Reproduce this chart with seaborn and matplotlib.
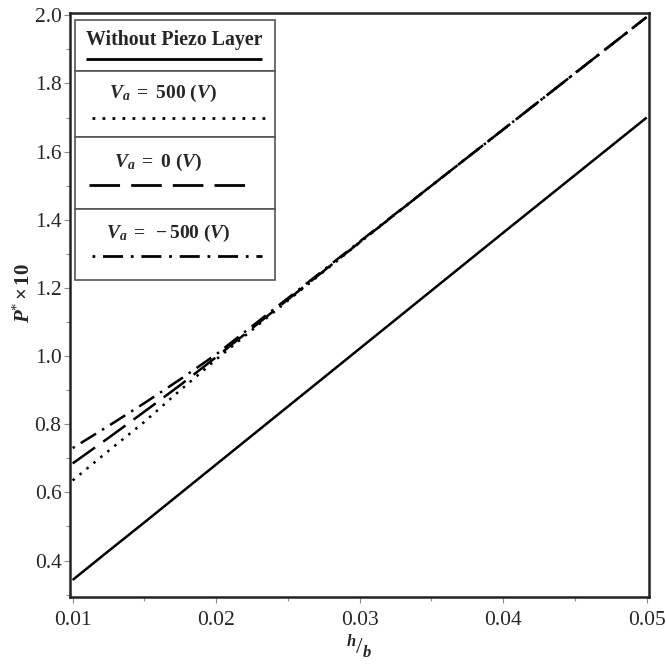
import matplotlib
matplotlib.use("Agg")
import matplotlib.pyplot as plt
import seaborn as sns
import pandas as pd
from matplotlib.lines import Line2D
from matplotlib.patches import Rectangle

# ---- data ----
h_b = [0.01, 0.0125, 0.015, 0.0175, 0.02, 0.025, 0.03, 0.035, 0.04, 0.045, 0.05]
no_piezo = [0.343, 0.428, 0.512, 0.597, 0.682, 0.852, 1.022, 1.192, 1.362, 1.531, 1.700]
va_500 = [0.635, 0.722, 0.807, 0.900, 0.990, 1.163, 1.333, 1.500, 1.665, 1.830, 1.995]
va_0 = [0.685, 0.760, 0.837, 0.915, 0.997, 1.166, 1.334, 1.500, 1.665, 1.830, 1.995]
va_m500 = [0.730, 0.795, 0.862, 0.932, 1.005, 1.170, 1.336, 1.500, 1.665, 1.830, 1.995]
series_names = ["Without Piezo Layer", "Va=500", "Va=0", "Va=-500"]
legend_labels = ["Without Piezo Layer",
                 r"$\mathbfit{V}_{\mathbfit{a}}\mathbf{\ =\ 500\ (}\mathbfit{V}\mathbf{)}$",
                 r"$\mathbfit{V}_{\mathbfit{a}}\mathbf{\ =\ 0\ (}\mathbfit{V}\mathbf{)}$",
                 r"$\mathbfit{V}_{\mathbfit{a}}\mathbf{\ =\ -500\ (}\mathbfit{V}\mathbf{)}$"]
x_ticks = [0.01, 0.02, 0.03, 0.04, 0.05]
y_ticks = [0.4, 0.6, 0.8, 1.0, 1.2, 1.4, 1.6, 1.8, 2.0]

df = pd.concat([
    pd.DataFrame({"h_b": h_b, "P": vals, "series": name})
    for name, vals in zip(series_names, [no_piezo, va_500, va_0, va_m500])
])

sns.set_style("ticks")
plt.rcParams["font.family"] = ["Liberation Serif", "DejaVu Serif"]
plt.rcParams["mathtext.fontset"] = "custom"
plt.rcParams["mathtext.rm"] = "Liberation Serif"
plt.rcParams["mathtext.it"] = "Liberation Serif:italic"
plt.rcParams["mathtext.bf"] = "Liberation Serif:bold"
plt.rcParams["mathtext.bfit"] = "Liberation Serif:bold:italic"

fig = plt.figure(figsize=(6.66, 6.66), dpi=100)
ax = fig.add_axes([0.105, 0.1036, 0.8695, 0.877])

LW = 1.8
styles = {
    "Without Piezo Layer": (0, ()),
    "Va=500": (0, (1.0, 2.6)),
    "Va=0": (0, (11, 4)),
    "Va=-500": (0, (1.0, 2.8, 7.2, 2.8)),
}
for name in series_names:
    sub = df[df["series"] == name]
    sns.lineplot(data=sub, x="h_b", y="P", ax=ax, color="black", lw=LW,
                 linestyle=styles[name], legend=False)

ax.set_xlim(0.00981, 0.05016)
ax.set_ylim(0.293, 2.007)
ax.set_xticks(x_ticks)
ax.set_xticklabels([f"{v:.2f}" for v in x_ticks])
ax.set_yticks(y_ticks)
ax.set_yticklabels([f"{v:.1f}" for v in y_ticks])
ax.set_xticks([0.015, 0.025, 0.035, 0.045], minor=True)
ax.set_yticks([0.3, 0.5, 0.7, 0.9, 1.1, 1.3, 1.5, 1.7, 1.9], minor=True)
ax.tick_params(axis="both", which="major", labelsize=15.5, length=4, width=0.8,
               color="#888888", direction="out")
ax.tick_params(axis="x", which="major", pad=6)
ax.tick_params(axis="y", which="major", pad=2)
ax.tick_params(axis="both", which="minor", length=3, width=0.8, color="#888888",
               direction="out")
for s in ax.spines.values():
    s.set_linewidth(1.8)
    s.set_color("#222222")

ax.set_xlabel(r"$^{\mathbfit{h}}/_{\mathbfit{b}}$", fontsize=17, labelpad=2)
ax.set_ylabel(r"$\mathbfit{P}^{*}\,\mathbf{\times\, 10}$", fontsize=15)
ax.yaxis.set_label_coords(-0.06, 0.52)

# ---- boxed legend (axes coords) ----
def ax_xy(px, py):
    x0, x1 = 70, 649
    y0, y1 = 13, 597
    return (px - x0) / (x1 - x0), (y1 - py) / (y1 - y0)

lx0, _ = ax_xy(75, 0)
lx1, _ = ax_xy(275, 0)
row_edges = [20, 71, 137, 209, 280]
text_y = [40, 94, 162, 233]
text_x = [174, 163, 158, 168]
line_y = [59, 118, 185, 256]
line_x = [(86, 262), (92, 265), (89, 255), (92, 262)]
line_styles = [styles[n] for n in series_names]
for i in range(4):
    _, ytop = ax_xy(0, row_edges[i])
    _, ybot = ax_xy(0, row_edges[i + 1])
    ax.add_patch(Rectangle((lx0, ybot), lx1 - lx0, ytop - ybot, transform=ax.transAxes,
                           facecolor="white", edgecolor="#555555", lw=1.2, zorder=5))
    tx, ty = ax_xy(text_x[i], text_y[i])
    if i == 0:
        ax.text(tx, ty, legend_labels[i], transform=ax.transAxes, ha="center", va="center",
                fontsize=14.3, fontweight="bold", zorder=6)
    else:
        ax.text(tx, ty, legend_labels[i], transform=ax.transAxes, ha="center", va="center",
                fontsize=14, zorder=6)
    xa, ya = ax_xy(line_x[i][0], line_y[i])
    xb, _ = ax_xy(line_x[i][1], line_y[i])
    ax.add_line(Line2D([xa, xb], [ya, ya], transform=ax.transAxes, color="black",
                       lw=2.0, linestyle=line_styles[i], zorder=6))

fig.savefig("out.png", dpi=100, facecolor="white")
